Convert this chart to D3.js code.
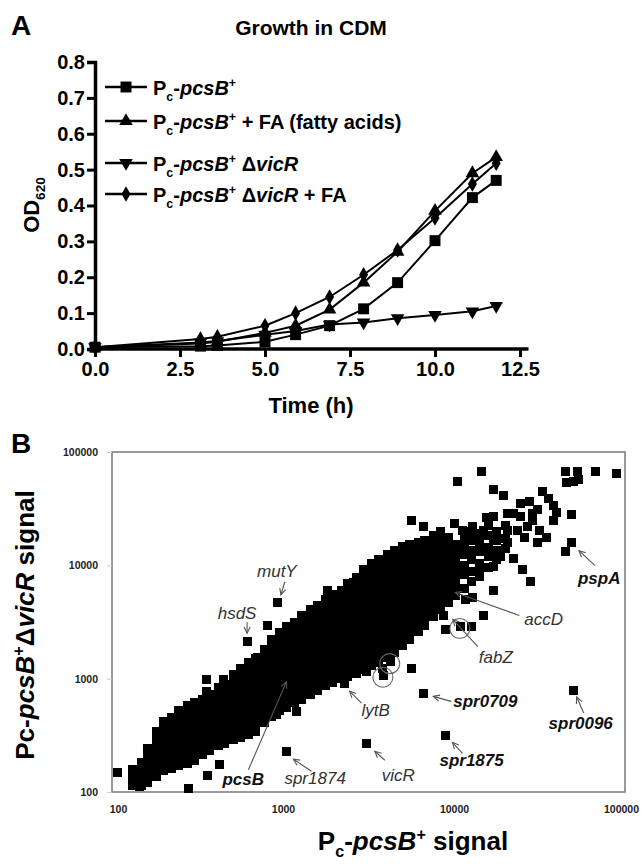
<!DOCTYPE html>
<html><head><meta charset="utf-8">
<script src="https://cdn.jsdelivr.net/npm/d3@7"></script>
<style>body{margin:0;background:#fff}svg{display:block}text{font-family:"Liberation Sans",Arial,Helvetica,sans-serif}</style>
</head><body><svg id="c" width="642" height="864"></svg>
<script>
// ---------------- Panel A data ----------------
const times = [0, 3.1, 3.6, 5.0, 5.9, 6.9, 7.9, 8.9, 10.0, 11.1, 11.8];
const odPcsB        = [0.005, 0.008, 0.010, 0.020, 0.040, 0.065, 0.112, 0.185, 0.302, 0.422, 0.470];
const odPcsBFA      = [0.005, 0.015, 0.020, 0.045, 0.065, 0.110, 0.185, 0.271, 0.385, 0.490, 0.535];
const odVicR        = [0.005, 0.018, 0.022, 0.040, 0.050, 0.068, 0.074, 0.086, 0.095, 0.105, 0.120];
const odVicRFA      = [0.005, 0.028, 0.034, 0.065, 0.100, 0.145, 0.207, 0.276, 0.365, 0.460, 0.518];
const odTicks   = [0, 0.1, 0.2, 0.3, 0.4, 0.5, 0.6, 0.7, 0.8];
const timeTicks = [0, 2.5, 5.0, 7.5, 10.0, 12.5];

// ---------------- Panel B data (log10 signal) ----------------
// dense cloud, column by column: [log10 Pc-pcsB+ signal, [log10 Pc-pcsB+ΔvicR signals]]
const cloud = [
[2.12,[2.06,2.13,2.20]],
[2.17,[2.06,2.12,2.19,2.26]],
[2.21,[2.08,2.15,2.21,2.28,2.34,2.38]],
[2.26,[2.14,2.20,2.27,2.33,2.40,2.46,2.53]],
[2.30,[2.19,2.25,2.32,2.38,2.45,2.51,2.58,2.62]],
[2.35,[2.21,2.27,2.34,2.40,2.47,2.53,2.60,2.66]],
[2.39,[2.23,2.29,2.36,2.42,2.49,2.55,2.62,2.68,2.72]],
[2.44,[2.25,2.31,2.38,2.44,2.51,2.57,2.64,2.70,2.76]],
[2.48,[2.28,2.34,2.41,2.47,2.54,2.60,2.67,2.73,2.79]],
[2.53,[2.33,2.39,2.46,2.52,2.59,2.65,2.72,2.78,2.82]],
[2.57,[2.37,2.43,2.50,2.56,2.63,2.69,2.76,2.82,2.86]],
[2.62,[2.41,2.47,2.54,2.60,2.67,2.73,2.80,2.86,2.92]],
[2.66,[2.43,2.49,2.56,2.62,2.69,2.75,2.82,2.88,2.95]],
[2.71,[2.46,2.52,2.59,2.65,2.72,2.78,2.85,2.91,2.98,3.04]],
[2.75,[2.48,2.54,2.61,2.67,2.74,2.80,2.87,2.93,3.00,3.06,3.09]],
[2.80,[2.51,2.57,2.64,2.70,2.77,2.83,2.90,2.96,3.03,3.09,3.14]],
[2.84,[2.53,2.59,2.66,2.72,2.79,2.85,2.92,2.98,3.05,3.11,3.18]],
[2.89,[2.61,2.67,2.74,2.80,2.87,2.93,3.00,3.06,3.13,3.19,3.26]],
[2.93,[2.67,2.73,2.80,2.86,2.93,2.99,3.06,3.12,3.19,3.25,3.32,3.35]],
[2.98,[2.72,2.78,2.85,2.91,2.98,3.04,3.11,3.17,3.24,3.30,3.37,3.41]],
[3.02,[2.75,2.81,2.88,2.94,3.01,3.07,3.14,3.20,3.27,3.33,3.40,3.46]],
[3.07,[2.79,2.85,2.92,2.98,3.05,3.11,3.18,3.24,3.31,3.37,3.44,3.50]],
[3.11,[2.82,2.88,2.95,3.01,3.08,3.14,3.21,3.27,3.34,3.40,3.47,3.53,3.56]],
[3.16,[2.86,2.92,2.99,3.05,3.12,3.18,3.25,3.31,3.38,3.44,3.51,3.57,3.61]],
[3.20,[2.90,2.96,3.03,3.09,3.16,3.22,3.29,3.35,3.42,3.48,3.55,3.61,3.65]],
[3.25,[2.94,3.00,3.07,3.13,3.20,3.26,3.33,3.39,3.46,3.52,3.59,3.65,3.70]],
[3.29,[2.97,3.03,3.10,3.16,3.23,3.29,3.36,3.42,3.49,3.55,3.62,3.68,3.74]],
[3.34,[3.00,3.06,3.13,3.19,3.26,3.32,3.39,3.45,3.52,3.58,3.65,3.71,3.78]],
[3.38,[3.02,3.08,3.15,3.21,3.28,3.34,3.41,3.47,3.54,3.60,3.67,3.73,3.80,3.84]],
[3.43,[3.05,3.11,3.18,3.24,3.31,3.37,3.44,3.50,3.57,3.63,3.70,3.76,3.83,3.89]],
[3.47,[3.08,3.14,3.21,3.27,3.34,3.40,3.47,3.53,3.60,3.66,3.73,3.79,3.86,3.92,3.96]],
[3.52,[3.12,3.18,3.25,3.31,3.38,3.44,3.51,3.57,3.64,3.70,3.77,3.83,3.90,3.96,4.02]],
[3.56,[3.14,3.20,3.27,3.33,3.40,3.46,3.53,3.59,3.66,3.72,3.79,3.85,3.92,3.98,4.05]],
[3.61,[3.19,3.25,3.32,3.38,3.45,3.51,3.58,3.64,3.71,3.77,3.84,3.90,3.97,4.03,4.10]],
[3.65,[3.23,3.29,3.36,3.42,3.49,3.55,3.62,3.68,3.75,3.81,3.88,3.94,4.01,4.07,4.13]],
[3.70,[3.29,3.35,3.42,3.48,3.55,3.61,3.68,3.74,3.81,3.87,3.94,4.00,4.07,4.13,4.17]],
[3.74,[3.35,3.41,3.48,3.54,3.61,3.67,3.74,3.80,3.87,3.93,4.00,4.06,4.13,4.18]],
[3.79,[3.42,3.48,3.55,3.61,3.68,3.74,3.81,3.87,3.94,4.00,4.07,4.13,4.20]],
[3.83,[3.47,3.53,3.60,3.66,3.73,3.79,3.86,3.92,3.99,4.05,4.12,4.18,4.22]],
[3.88,[3.55,3.61,3.68,3.74,3.81,3.87,3.94,4.00,4.07,4.13,4.20,4.26]],
[3.92,[3.61,3.67,3.74,3.80,3.87,3.93,4.00,4.06,4.13,4.19,4.26,4.30]],
[3.97,[3.67,3.73,3.80,3.86,3.93,3.99,4.06,4.12,4.19,4.25]],
[4.01,[3.73,3.79,3.86,3.92,3.99,4.05,4.12,4.18]],
[4.06,[3.80,3.92,4.00,4.10,4.17,4.24]],
[4.10,[3.86,3.95,4.05,4.13,4.22,4.30]],
[4.15,[3.90,4.02,4.12,4.20,4.28]],
[4.20,[3.98,4.08,4.16,4.26,4.35]],
[4.25,[4.05,4.13,4.22,4.30]],
[4.30,[4.15,4.24,4.35]]
];
// scattered genes outside the dense cloud [log10 x, log10 y]
const outliers = [
[4.16,4.83],[4.02,4.74],[4.65,4.83],[4.72,4.83],[4.83,4.83],[4.95,4.81],[4.66,4.73],[4.70,4.74],[4.73,4.76],
[4.23,4.67],[4.29,4.62],[4.39,4.55],[4.44,4.56],[4.52,4.65],[4.55,4.59],[4.58,4.53],[4.60,4.47],[4.69,4.45],
[4.49,4.49],[4.46,4.40],[4.43,4.34],[4.31,4.46],[4.23,4.43],[4.19,4.42],[3.75,4.40],[3.82,4.34],[4.00,4.37],
[4.05,4.31],[4.11,4.34],[4.17,4.31],[4.31,4.31],[4.37,4.31],[4.41,4.25],[4.49,4.20],[4.65,4.12],
[4.35,4.06],[4.40,3.96],[4.45,3.86],[4.23,3.78],[4.11,3.72],[4.17,3.56],[4.07,3.70],[4.10,3.46],
[3.94,3.56],[3.95,3.43],[3.26,3.78],[3.41,3.85],
[4.23,4.22],[4.31,4.20],[4.27,4.08],[4.23,3.99],[4.15,3.96],[4.39,4.43],[4.35,4.46],[4.46,4.46],[4.50,4.31],[4.58,4.40],[4.54,4.25],
[3.22,2.99],[3.28,3.05],[3.33,3.08],[3.43,3.05],[3.49,3.06],[3.58,3.09],[3.59,3.03],[3.63,3.15],[3.75,3.09],
[3.08,2.71],[2.96,2.68],
[2.03,2.17],[2.14,2.14],[2.16,2.05],[2.19,2.12],[2.45,2.03],[2.56,2.15],[2.63,2.24],
[2.91,3.47],[2.55,2.89],[2.55,2.99],[2.65,2.99],[2.85,3.19],[2.96,3.33]
];
// labelled genes
const geneNames = ['mutY','hsdS','accD','fabZ','lytB','spr0709','spr0096','spr1875','vicR','spr1874','pcsB','pspA'];
const geneX     = [2.97, 2.79, 3.99, 4.04, 3.36, 3.82, 4.70, 3.95, 3.49, 3.02, 3.02, 4.69];
const geneY     = [3.67, 3.33, 3.77, 3.46, 2.96, 2.87, 2.90, 2.50, 2.43, 2.36, 2.99, 4.20];
const geneBold  = [false,false,false,false,false,true,true,true,false,false,true,true];
const circled   = [[3.63,3.15],[3.59,3.03],[4.04,3.46]];
const logTicks  = [100, 1000, 10000, 100000];

// annotation layout (pixel offsets from the gene's point): tail, tip, label(dx,dy,anchor)
const annoLayout = {
  mutY:   {tail:[7,-21], tip:[3,-8],  lab:[-1,-26,'middle']},
  hsdS:   {tail:[0,-19], tip:[0,-8],  lab:[-10,-22,'middle']},
  accD:   {tail:[67,24], tip:[3,1],   lab:[72,34,'start']},
  fabZ:   {tail:[17,20], tip:[-8,-7], lab:[18,36,'start']},
  lytB:   {tail:[17,20], tip:[5,8],   lab:[17,33,'start']},
  spr0709:{tail:[28,8],  tip:[10,3],  lab:[30,14,'start']},
  spr0096:{tail:[10,23], tip:[3,7],   lab:[7,39,'middle']},
  spr1875:{tail:[17,18], tip:[7,7],   lab:[-6,31,'start']},
  vicR:   {tail:[18,17], tip:[8,8],   lab:[15,38,'start']},
  spr1874:{tail:[25,20], tip:[7,8],   lab:[-2,33,'start']},
  pcsB:   {tail:[-38,90],tip:[0,2],   lab:[-64,105,'start']},
  pspA:   {tail:[23,23], tip:[7,8],   lab:[6,41,'start']}
};

// ---------------- helpers ----------------
const svg = d3.select('#c');
function rich(parent, parts, size, weight) {
  const t = parent.append('text').attr('font-size', size).attr('font-weight', weight || 'bold');
  let shift = 0;
  parts.forEach(p => {
    const ts = t.append('tspan').text(p.t);
    if (p.i) ts.attr('font-style', 'italic');
    const target = p.sub ? size * 0.28 : p.sup ? -size * 0.38 : 0;
    if (target !== shift) { ts.attr('dy', target - shift); shift = target; }
    if (p.sub || p.sup) ts.attr('font-size', size * 0.62);
  });
  return t;
}
const PC = [{t:'P'},{t:'c',sub:1},{t:'-'},{t:'pcsB',i:1},{t:'+',sup:1}];

// ================= Panel A =================
svg.append('text').attr('x', 11).attr('y', 35).attr('font-size', 28).attr('font-weight', 'bold').text('A');
svg.append('text').attr('x', 311).attr('y', 35).attr('text-anchor', 'middle')
  .attr('font-size', 21).attr('font-weight', 'bold').text('Growth in CDM');

const xA = d3.scaleLinear().domain([0, 12.5]).range([95, 520]);
const yA = d3.scaleLinear().domain([0, 0.8]).range([349, 62]);

const gA = svg.append('g');
const yAx = gA.append('g').attr('transform', 'translate(95,0)')
  .call(d3.axisLeft(yA).tickValues(odTicks).tickFormat(d3.format('.1f')).tickSize(8).tickPadding(2));
const xAx = gA.append('g').attr('transform', 'translate(0,349)')
  .call(d3.axisBottom(xA).tickValues(timeTicks).tickFormat(d3.format('.1f')).tickSize(8).tickPadding(5));
xAx.select('.domain').remove();
gA.append('line').attr('x1', 93).attr('x2', xA(12.75)).attr('y1', 349).attr('y2', 349)
  .attr('stroke', '#000').attr('stroke-width', 3.5);
[yAx, xAx].forEach(a => {
  a.selectAll('.domain').attr('stroke-width', 3.5).attr('stroke', '#000');
  a.selectAll('.tick line').attr('stroke-width', 3).attr('stroke', '#000');
  a.selectAll('.tick text').attr('font-size', 20).attr('font-weight', 'bold').attr('fill', '#000')
    .attr('font-family', '"Liberation Sans",Arial,sans-serif');
});

const series = [
  {name:'Pc-pcsB+', vals: odPcsB, sym: d3.symbolSquare, size: 120, rot: 0,
   parts: PC},
  {name:'Pc-pcsB+ + FA (fatty acids)', vals: odPcsBFA, sym: d3.symbolTriangle, size: 80, rot: 0,
   parts: PC.concat([{t:' + FA (fatty acids)'}])},
  {name:'Pc-pcsB+ ΔvicR', vals: odVicR, sym: d3.symbolTriangle, size: 80, rot: 180,
   parts: PC.concat([{t:' Δ'},{t:'vicR',i:1}])},
  {name:'Pc-pcsB+ ΔvicR + FA', vals: odVicRFA, sym: d3.symbolDiamond, size: 70, rot: 0,
   parts: PC.concat([{t:' Δ'},{t:'vicR',i:1},{t:' + FA'}])}
];
const lineGen = d3.line().x((d, i) => xA(times[i])).y(d => yA(d));
series.forEach(s => {
  gA.append('path').attr('d', lineGen(s.vals)).attr('fill', 'none').attr('stroke', '#000').attr('stroke-width', 2);
  gA.selectAll(null).data(s.vals).join('path')
    .attr('d', d3.symbol().type(s.sym).size(s.size))
    .attr('transform', (d, i) => `translate(${xA(times[i])},${yA(d)}) rotate(${s.rot})`)
    .attr('fill', '#000');
});
// legend
const legY = [87, 121, 163, 194];
series.forEach((s, k) => {
  const g = gA.append('g').attr('transform', `translate(0,${legY[k]})`);
  g.append('line').attr('x1', 105).attr('x2', 147).attr('stroke', '#000').attr('stroke-width', 2.5);
  g.append('path').attr('d', d3.symbol().type(s.sym).size(s.size))
    .attr('transform', `translate(126,0) rotate(${s.rot})`).attr('fill', '#000');
  rich(g, s.parts, 20).attr('x', 153).attr('y', 8);
});
// axis titles
rich(gA, [{t:'OD'},{t:'620',sub:1}], 22).attr('text-anchor', 'middle')
  .attr('transform', 'translate(39,205) rotate(-90)');
svg.append('text').attr('x', 311).attr('y', 413).attr('text-anchor', 'middle')
  .attr('font-size', 22).attr('font-weight', 'bold').text('Time (h)');

// ================= Panel B =================
svg.append('text').attr('x', 11).attr('y', 453).attr('font-size', 28).attr('font-weight', 'bold').text('B');
const xB = d3.scaleLog().domain([100, 100000]).range([112, 625]);
const yB = d3.scaleLog().domain([100, 100000]).range([792, 452]);
const gB = svg.append('g');
gB.append('rect').attr('x', 112).attr('y', 452).attr('width', 513).attr('height', 340)
  .attr('fill', 'none').attr('stroke', '#808080').attr('stroke-width', 1.6);
const yBx = gB.append('g').attr('transform', 'translate(112,0)')
  .call(d3.axisLeft(yB).tickValues(logTicks).tickFormat(d3.format('d')).tickSize(5).tickPadding(9));
const xBx = gB.append('g').attr('transform', 'translate(0,792)')
  .call(d3.axisBottom(xB).tickValues(logTicks).tickFormat(d3.format('d')).tickSize(0).tickPadding(14));
[yBx, xBx].forEach(a => {
  a.select('.domain').remove();
  a.selectAll('.tick line').attr('stroke', '#ccc');
  a.selectAll('.tick text').attr('font-size', 10.5).attr('font-weight', 'bold').attr('fill', '#222')
    .attr('font-family', '"Liberation Sans",Arial,sans-serif');
});
// nudge the end labels inward as in the reference
xBx.selectAll('.tick text').attr('dx', d => d === 100 ? 6 : d === 100000 ? -4 : 0);

const SQ = 9;
const pts = [];
cloud.forEach(([lx, ys]) => ys.forEach(ly => pts.push([lx, ly])));
outliers.forEach(p => pts.push(p));
geneX.forEach((lx, i) => pts.push([lx, geneY[i]]));
gB.append('g').attr('shape-rendering', 'crispEdges').selectAll('rect').data(pts).join('rect')
  .attr('x', d => Math.round(xB(10 ** d[0]) - SQ / 2)).attr('y', d => Math.round(yB(10 ** d[1]) - SQ / 2))
  .attr('width', SQ).attr('height', SQ).attr('fill', '#000');

// circles
gB.selectAll(null).data(circled).join('circle')
  .attr('cx', d => xB(10 ** d[0]) - 1).attr('cy', d => yB(10 ** d[1]) + 2).attr('r', 10)
  .attr('fill', 'none').attr('stroke', '#666').attr('stroke-width', 1.1);

// annotations
geneNames.forEach((name, i) => {
  const L = annoLayout[name];
  const px = xB(10 ** geneX[i]), py = yB(10 ** geneY[i]);
  const x1 = px + L.tail[0], y1 = py + L.tail[1], x2 = px + L.tip[0], y2 = py + L.tip[1];
  const g = gB.append('g').attr('stroke', '#555').attr('stroke-width', 1.1).attr('fill', 'none');
  g.append('line').attr('x1', x1).attr('y1', y1).attr('x2', x2).attr('y2', y2);
  const ang = Math.atan2(y1 - y2, x1 - x2), h = 7, spread = 0.45;
  g.append('path').attr('d',
    `M${x2 + h * Math.cos(ang + spread)},${y2 + h * Math.sin(ang + spread)}L${x2},${y2}L${x2 + h * Math.cos(ang - spread)},${y2 + h * Math.sin(ang - spread)}`);
  gB.append('text').attr('x', px + L.lab[0]).attr('y', py + L.lab[1]).attr('text-anchor', L.lab[2])
    .attr('font-size', 17).attr('font-style', 'italic')
    .attr('font-weight', geneBold[i] ? 'bold' : 'normal')
    .attr('fill', geneBold[i] ? '#111' : '#333').text(name);
});

// axis titles
rich(gB, [{t:'Pc-'},{t:'pcsB',i:1},{t:'+',sup:1},{t:'Δ'},{t:'vicR',i:1},{t:' signal'}], 26)
  .attr('text-anchor', 'middle').attr('transform', 'translate(34,625) rotate(-90)');
rich(gB, [{t:'P'},{t:'c',sub:1},{t:'-'},{t:'pcsB',i:1},{t:'+',sup:1},{t:' signal'}], 26)
  .attr('text-anchor', 'middle').attr('x', 413).attr('y', 850);
</script>
</body></html>
